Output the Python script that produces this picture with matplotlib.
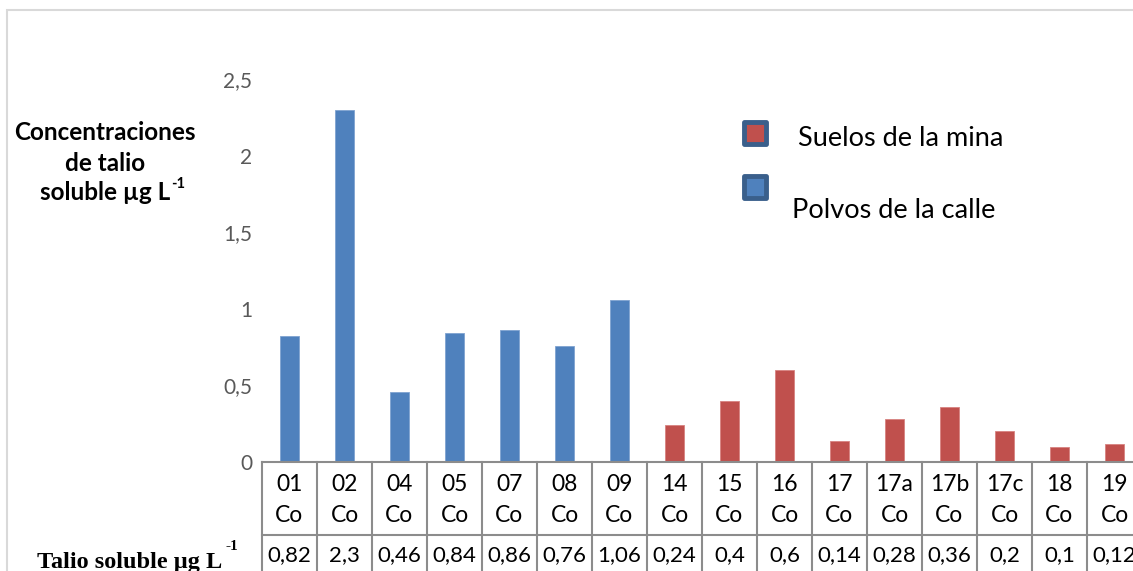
import numpy as np
import matplotlib.pyplot as plt
from matplotlib.patches import Rectangle
from matplotlib.transforms import blended_transform_factory

# muestras y talio soluble (µg/L)
muestras = ['01', '02', '04', '05', '07', '08', '09', '14', '15', '16',
            '17', '17a', '17b', '17c', '18', '19']
talio = [0.82, 2.3, 0.46, 0.84, 0.86, 0.76, 1.06, 0.24, 0.4, 0.6,
         0.14, 0.28, 0.36, 0.2, 0.1, 0.12]
# 'P' = polvos de la calle, 'S' = suelos de la mina
origen = ['P'] * 7 + ['S'] * 9
series = ['Suelos de la mina', 'Polvos de la calle']

azul = '#4f81bd'
rojo = '#c0504d'
borde_tabla = '#8c8c8c'
serif = ['Liberation Serif', 'DejaVu Serif']

plt.rcParams['font.family'] = ['Lato', 'DejaVu Sans']

W, H = 1133, 571
fig = plt.figure(figsize=(W / 100, H / 100), dpi=100)


def px(x, y):
    # pixeles (desde arriba a la izquierda) -> coordenadas de figura
    return x / W, 1 - y / H


# marco exterior del gráfico
fig.patches.append(Rectangle((6.5 / W, -0.1), 1.2, (H - 9.5) / H + 0.1,
                             transform=fig.transFigure, fill=False,
                             edgecolor='#d9d9d9', linewidth=1.5))

n = len(muestras)
ax = fig.add_axes([262 / W, 1 - 462 / H, 55 * n / W, 383 / H])
x = np.arange(n)
vals = np.array(talio)
es_polvo = np.array([o == 'P' for o in origen])

ax.bar(x[es_polvo], vals[es_polvo], width=0.33, color=azul,
       edgecolor='#7fa3d1', linewidth=0.6)
ax.bar(x[~es_polvo], vals[~es_polvo], width=0.33, color=rojo,
       edgecolor='#d78280', linewidth=0.6)

ax.set_xlim(-0.5, n - 0.5)
ax.set_ylim(0, 2.5)
ax.set_xticks([])
yt = np.arange(0, 2.51, 0.5)
ax.set_yticks(yt)
ax.set_yticklabels([f'{v:g}'.replace('.', ',') for v in yt])
ax.tick_params(axis='y', length=0, pad=7, labelsize=15, labelcolor='#595959')
for s in ax.spines.values():
    s.set_visible(False)

# tabla de datos bajo el eje
tr = blended_transform_factory(ax.transData, ax.transAxes)
h1 = 73 / 383
h2 = 73 / 383
for yy in (0, -h1, -(h1 + h2)):
    ax.plot([-0.5, n - 0.5], [yy, yy], transform=tr, color=borde_tabla,
            lw=1.5, clip_on=False)
for i in range(n + 1):
    ax.plot([i - 0.5, i - 0.5], [0, -(h1 + h2)], transform=tr,
            color=borde_tabla, lw=1.5, clip_on=False)
for i, (m, v) in enumerate(zip(muestras, talio)):
    ax.text(i, -h1 / 2 - 0.003, f'{m}\nCo', transform=tr, ha='center',
            va='center', fontsize=16.5, linespacing=1.6, clip_on=False)
    ax.text(i, -0.243, f'{v:g}'.replace('.', ','), transform=tr,
            ha='center', va='center', fontsize=16, clip_on=False)

# etiqueta de la fila de valores
fila = fig.text(*px(37, 568), 'Talio soluble µg L', family=serif,
                fontweight='bold', fontsize=17.5, va='baseline')
ax.annotate('-1', xy=(1, 1), xycoords=fila, xytext=(2, -1),
            textcoords='offset points', ha='left', va='bottom',
            family=serif, fontweight='bold', fontsize=11,
            annotation_clip=False)

# título del eje Y
lineas = ['Concentraciones', 'de talio', 'soluble µg L']
for lin, yy in zip(lineas, [133, 164, 192]):
    t = fig.text(*px(105, yy), lin, ha='center', va='center',
                 fontweight='bold', fontsize=17.5)
ax.annotate('-1', xy=(1, 0.55), xycoords=t, xytext=(1, 0),
            textcoords='offset points', ha='left', va='bottom',
            fontweight='bold', fontsize=10.5, annotation_clip=False)

# leyenda
cols = {'Suelos de la mina': rojo, 'Polvos de la calle': azul}
marc_y = [133, 187]
texto_pos = [(798, 138), (792, 210)]
for nombre, my, (tx, ty) in zip(series, marc_y, texto_pos):
    fig.patches.append(Rectangle(px(744, my + 11), 22 / W, 22 / H,
                                 transform=fig.transFigure,
                                 facecolor=cols[nombre], edgecolor='#3a5f8b',
                                 linewidth=3.5, joinstyle='round'))
    fig.text(*px(tx, ty), nombre, ha='left', va='center', fontsize=19.5)

fig.savefig('out.png', dpi=100, facecolor='white')
